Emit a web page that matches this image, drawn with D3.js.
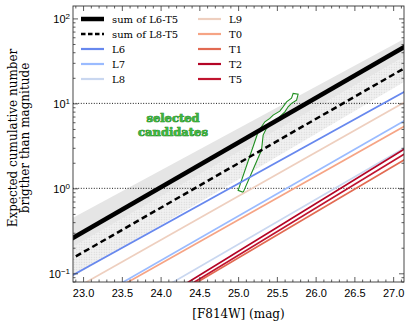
<!DOCTYPE html>
<html>
<head>
<meta charset="utf-8">
<script src="https://cdn.jsdelivr.net/npm/d3@7"></script>
<style>
  body { margin: 0; background: #fff; }
  svg { display: block; font-family: "DejaVu Serif", serif; }
  .tick text { font-size: 11px; fill: #000; }
  .axis path.domain { display: none; }
  .axis line { stroke: #333; stroke-width: 0.8; }
</style>
</head>
<body>
<svg id="chart" width="415" height="327"></svg>
<script>
// magnitudes at which each (straight, log-space) curve is read
const mags = [22.8, 27.2];

// cumulative numbers
const sumAll = [0.240, 49.5];   // sum of L6-T5
const sumL8 = [0.139, 27.7];    // sum of L8-T5
const nL6 = [0.088, 14.6];
const nL7 = [0.0332, 6.65];
const nL8 = [0.0150, 3.18];
const nL9 = [0.0591, 11.0];
const nT0 = [0.0313, 5.75];
const nT1 = [0.00986, 2.32];
const nT2 = [0.0105, 3.11];
const nT5 = [0.0097, 2.72];

// grey spread of the summed curves
const spreadHi = [0.415, 61.2];
const spreadLo = [0.173, 37.8];
const spreadL8Hi = [0.19, 37.8];
const spreadL8Lo = [0.0836, 19.2];

// outline of the selected candidates region
const candMag = [25.00, 25.237, 25.258, 25.345, 25.409, 25.452, 25.538, 25.581, 25.625, 25.689, 25.710,
                 25.774, 25.754, 25.689, 25.645, 25.603, 25.538, 25.495, 25.431, 25.366, 25.323, 25.302, 25.065];
const candN = [0.947, 4.05, 4.63, 6.07, 6.66, 7.28, 8.11, 9.12, 10.4, 11.5, 13.1,
               12.8, 10.9, 10.0, 9.12, 7.96, 6.96, 6.36, 5.82, 5.08, 4.24, 2.82, 0.897];

const xTicks = [23.0, 23.5, 24.0, 24.5, 25.0, 25.5, 26.0, 26.5, 27.0];
const yTicks = [0.1, 1, 10, 100];
const yTickExp = ['\u22121', '0', '1', '2'];
const refLines = [1, 10];

const types = ['L6', 'L7', 'L8', 'L9', 'T0', 'T1', 'T2', 'T5'];
const typeVals = [nL6, nL7, nL8, nL9, nT0, nT1, nT2, nT5];
const typeColors = ['#6788ee', '#9abbff', '#c9d7f0', '#eecfbf', '#f6a485', '#e26a52', '#b40426', '#c0142f'];

const margin = {top: 6, right: 11, bottom: 45, left: 73};
const width = 415 - margin.left - margin.right;
const height = 327 - margin.top - margin.bottom;

const svg = d3.select('#chart');
const defs = svg.append('defs');
defs.append('clipPath').attr('id', 'clip')
    .append('rect').attr('width', width).attr('height', height);
const pat = defs.append('pattern').attr('id', 'dots')
    .attr('width', 2.5).attr('height', 2.5).attr('patternUnits', 'userSpaceOnUse');
pat.append('rect').attr('width', 2.5).attr('height', 2.5).attr('fill', '#f1f1f1');
pat.append('circle').attr('cx', 1.25).attr('cy', 1.25).attr('r', 0.6).attr('fill', '#d2d2d2');

const chart = svg.append('g').attr('transform', 'translate(' + margin.left + ',' + margin.top + ')');

const x = d3.scaleLinear().domain([22.87, 27.14]).range([0, width]);
const y = d3.scaleLog().domain([0.079, 140]).range([height, 0]);

const plot = chart.append('g').attr('clip-path', 'url(#clip)');

const pts = vals => mags.map((m, i) => ({x: m, y: vals[i]}));
const line = d3.line().x(d => x(d.x)).y(d => y(d.y));
const band = (hi, lo) => d3.area().x(d => x(d.x)).y0(d => y(d.lo)).y1(d => y(d.hi))
    (mags.map((m, i) => ({x: m, hi: hi[i], lo: lo[i]})));

// spread bands
plot.append('path').attr('d', band(spreadHi, spreadLo)).attr('fill', '#e5e5e5');
plot.append('path').attr('d', band(spreadL8Hi, spreadL8Lo)).attr('fill', 'url(#dots)');

// reference lines
plot.selectAll('.ref').data(refLines).enter().append('line')
    .attr('x1', 0).attr('x2', width)
    .attr('y1', d => y(d)).attr('y2', d => y(d))
    .attr('stroke', '#000').attr('stroke-width', 0.9).attr('stroke-dasharray', '1,1.6');

// candidates region
const candPts = candMag.map((m, i) => [x(m), y(candN[i])]);
plot.append('path')
    .attr('d', d3.line()(candPts) + 'Z')
    .attr('fill', '#fff').attr('fill-opacity', 0.75)
    .attr('stroke', '#1f8f1f').attr('stroke-width', 1.1);

// individual spectral types
plot.selectAll('.type').data(types).enter().append('path')
    .attr('d', (d, i) => line(pts(typeVals[i])))
    .attr('fill', 'none')
    .attr('stroke', (d, i) => typeColors[i])
    .attr('stroke-width', 1.7);

// sums
plot.append('path').attr('d', line(pts(sumAll)))
    .attr('fill', 'none').attr('stroke', '#000').attr('stroke-width', 4.5);
plot.append('path').attr('d', line(pts(sumL8)))
    .attr('fill', 'none').attr('stroke', '#000').attr('stroke-width', 2.5)
    .attr('stroke-dasharray', '6,3.5');

// candidate label
const lab = chart.append('text')
    .attr('x', x(24.16)).attr('text-anchor', 'middle')
    .attr('font-size', 11.5).attr('font-weight', 'bold')
    .attr('fill', '#3cb43c').attr('stroke', '#1a7a1a').attr('stroke-width', 0.7)
    .attr('paint-order', 'stroke');
lab.append('tspan').attr('x', x(24.16)).attr('y', y(6.0)).text('selected');
lab.append('tspan').attr('x', x(24.16)).attr('y', y(4.1)).text('candidates');

// axes
const minorX = d3.range(22.9, 27.15, 0.1).filter(v => Math.abs(v * 2 - Math.round(v * 2)) > 0.01);
const minorY = [];
[0.01, 0.1, 1, 10, 100].forEach(dec => { for (let k = 2; k <= 9; k++) minorY.push(dec * k); });
const minorYIn = minorY.filter(v => v >= 0.079 && v <= 140);

chart.append('g').attr('class', 'axis').attr('transform', 'translate(0,' + height + ')')
    .call(d3.axisBottom(x).tickValues(xTicks).tickSize(-5).tickPadding(7).tickFormat(d3.format('.1f')));
chart.append('g').attr('class', 'axis').attr('transform', 'translate(0,' + height + ')')
    .call(d3.axisBottom(x).tickValues(minorX).tickSize(-2.5).tickFormat(''));
chart.append('g').attr('class', 'axis')
    .call(d3.axisTop(x).tickValues(xTicks).tickSize(-5).tickFormat(''));
chart.append('g').attr('class', 'axis')
    .call(d3.axisTop(x).tickValues(minorX).tickSize(-2.5).tickFormat(''));

const yAxis = chart.append('g').attr('class', 'axis')
    .call(d3.axisLeft(y).tickValues(yTicks).tickSize(-5).tickFormat(''));
chart.append('g').attr('class', 'axis')
    .call(d3.axisLeft(y).tickValues(minorYIn).tickSize(-2.5).tickFormat(''));
chart.append('g').attr('class', 'axis').attr('transform', 'translate(' + width + ',0)')
    .call(d3.axisRight(y).tickValues(yTicks).tickSize(-5).tickFormat(''));
chart.append('g').attr('class', 'axis').attr('transform', 'translate(' + width + ',0)')
    .call(d3.axisRight(y).tickValues(minorYIn).tickSize(-2.5).tickFormat(''));

yAxis.selectAll('.tick').each(function(d, i) {
    const t = d3.select(this).append('text')
        .attr('x', -3).attr('dy', '0.35em').attr('text-anchor', 'end')
        .attr('font-size', 11).attr('fill', '#000');
    t.append('tspan').text('10');
    t.append('tspan').attr('dy', '-0.45em').attr('font-size', 8).text(yTickExp[i]);
});

chart.append('rect').attr('width', width).attr('height', height)
    .attr('fill', 'none').attr('stroke', '#333').attr('stroke-width', 0.9);

// titles
chart.append('text').attr('x', width / 2).attr('y', height + 36)
    .attr('text-anchor', 'middle').attr('font-size', 12).text('[F814W] (mag)');
const yt = chart.append('text').attr('transform', 'translate(-56,' + (height / 2 - 6) + ') rotate(-90)')
    .attr('text-anchor', 'middle').attr('font-size', 12);
yt.append('tspan').attr('x', 0).attr('y', 0).text('Expected cumulative number');
yt.append('tspan').attr('x', 0).attr('y', 12).text('brigther than magnitude');

// legend
const legendNames = ['sum of L6-T5', 'sum of L8-T5'].concat(types);
const legendStyles = [{c: '#000', w: 4.5, dash: null}, {c: '#000', w: 2.5, dash: '4.5,2.5'}]
    .concat(typeColors.map(c => ({c: c, w: 2.2, dash: null})));
const leg = chart.append('g').attr('transform', 'translate(8,13)');
legendNames.forEach((name, i) => {
    const col = i < 5 ? 0 : 1;
    const row = i % 5;
    const g = leg.append('g').attr('transform', 'translate(' + (col * 117) + ',' + (row * 15) + ')');
    g.append('line').attr('x1', 0).attr('x2', 23).attr('y1', 0).attr('y2', 0)
        .attr('stroke', legendStyles[i].c).attr('stroke-width', legendStyles[i].w)
        .attr('stroke-dasharray', legendStyles[i].dash);
    g.append('text').attr('x', 31).attr('dy', '0.35em').attr('font-size', 10).text(name);
});
</script>
</body>
</html>
